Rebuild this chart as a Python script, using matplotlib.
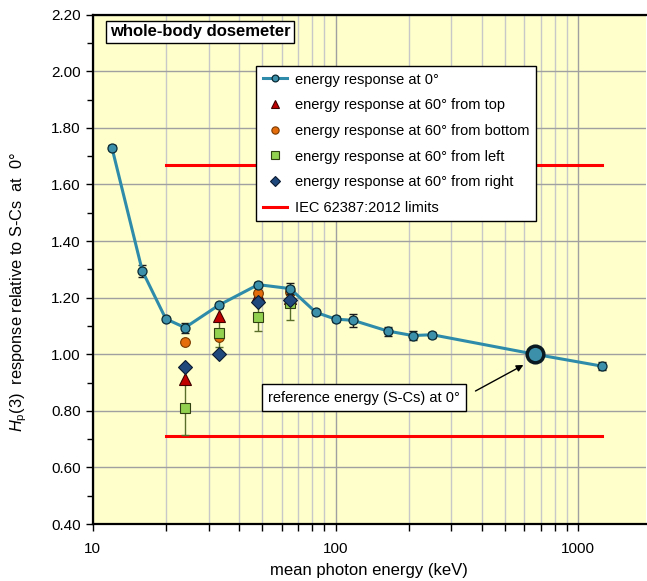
import numpy as np
import matplotlib
matplotlib.use("Agg")
import matplotlib.pyplot as plt
from matplotlib.ticker import FixedLocator, FormatStrFormatter, MultipleLocator, NullFormatter

plt.rcParams['font.family'] = ['Liberation Sans', 'DejaVu Sans']
plt.rcParams['mathtext.fontset'] = 'custom'
plt.rcParams['mathtext.rm'] = 'Liberation Sans'
plt.rcParams['mathtext.it'] = 'Liberation Sans:italic'

# energy response at 0 deg
energy_0 = [12, 16, 20, 24, 33, 48, 65, 83, 100, 118, 164, 208, 250, 662, 1250]
resp_0 = [1.73, 1.295, 1.125, 1.094, 1.173, 1.246, 1.232, 1.148, 1.124, 1.120, 1.082, 1.066, 1.069, 1.00, 0.958]
err_0 = [0.008, 0.022, 0.008, 0.018, 0.008, 0.01, 0.018, 0.01, 0.01, 0.022, 0.016, 0.016, 0.01, 0.0, 0.015]

# 60 deg responses
energy_60 = [24, 33, 48, 65]
resp_top = [0.912, 1.135, 1.21, 1.20]
resp_bottom = [1.043, 1.062, 1.216, 1.221]
resp_left = [0.809, 1.075, 1.133, 1.182]
err_left = [0.095, 0.05, 0.05, 0.06]
resp_right = [0.955, 1.001, 1.186, 1.19]

# IEC limits
limit_energy = [20, 1250]
limit_low = 0.71
limit_high = 1.67

ref_energy = 662
ref_resp = 1.00

fig = plt.figure(figsize=(6.47, 5.81), dpi=100)
ax = fig.add_axes([0.1433, 0.0981, 0.8552, 0.8766])
ax.set_facecolor('#FFFFCC')

ax.set_xscale('log')
ax.set_xlim(10, 1900)
ax.set_ylim(0.4, 2.2)

ax.xaxis.set_major_locator(FixedLocator([10, 100, 1000]))
ax.xaxis.set_minor_locator(FixedLocator([v * d for d in (10, 100, 1000) for v in range(2, 10)]))
ax.xaxis.set_minor_formatter(NullFormatter())
ax.set_xticklabels(['10', '100', '1000'])
ax.yaxis.set_major_locator(MultipleLocator(0.2))
ax.yaxis.set_minor_locator(MultipleLocator(0.1))
ax.yaxis.set_major_formatter(FormatStrFormatter('%.2f'))

ax.grid(True, which='major', color='#A0A0A0', linewidth=1.0)
ax.grid(True, which='minor', axis='x', color='#C8C8C8', linewidth=1.0)
ax.set_axisbelow(True)

ax.tick_params(axis='both', which='both', direction='out', colors='black', labelsize=11)
ax.tick_params(axis='both', which='major', length=5, width=1)
ax.tick_params(axis='both', which='minor', length=4, width=1)
ax.tick_params(axis='x', which='minor', length=5)
ax.tick_params(axis='x', which='major', pad=8)
for s in ('left', 'bottom', 'top'):
    ax.spines[s].set_linewidth(1.6)
ax.spines['right'].set_visible(False)

# IEC limits
ax.plot(limit_energy, [limit_high, limit_high], color='#FF0000', lw=2.2, zorder=2)
l_iec, = ax.plot(limit_energy, [limit_low, limit_low], color='#FF0000', lw=2.2, zorder=2,
                 label='IEC 62387:2012 limits')

# 60 deg series
ax.errorbar(energy_60, resp_left, yerr=err_left, fmt='none', ecolor='#5A6E2A', elinewidth=1,
            capsize=3, zorder=3)
h_top, = ax.plot(energy_60, resp_top, ls='none', marker='^', ms=8, mfc='#C00000', mec='#400000',
                 mew=0.8, zorder=4, label='energy response at 60° from top')
h_bot, = ax.plot(energy_60, resp_bottom, ls='none', marker='o', ms=7, mfc='#E46C0A', mec='#7A3A00',
                 mew=0.8, zorder=4, label='energy response at 60° from bottom')
h_left, = ax.plot(energy_60, resp_left, ls='none', marker='s', ms=7, mfc='#92D050', mec='#304010',
                  mew=0.8, zorder=5, label='energy response at 60° from left')
h_right, = ax.plot(energy_60, resp_right, ls='none', marker='D', ms=7, mfc='#1F497D', mec='#0A1A30',
                   mew=0.8, zorder=5, label='energy response at 60° from right')

# 0 deg series
ax.errorbar(energy_0, resp_0, yerr=err_0, fmt='none', ecolor='#1A1A1A', elinewidth=1, capsize=3,
            zorder=6)
h_0, = ax.plot(energy_0, resp_0, color='#2E8CAA', lw=2.2, marker='o', ms=6.5, mfc='#3C90AA',
               mec='#0A2A35', mew=0.9, zorder=7, label='energy response at 0°')
ax.plot([ref_energy], [ref_resp], ls='none', marker='o', ms=12, mfc='#3C90AA', mec='#0A1A20',
        mew=2.5, zorder=8)

leg = ax.legend(handles=[h_0, h_top, h_bot, h_left, h_right, l_iec],
                loc='upper left', bbox_to_anchor=(256 / 647, 1 - 66 / 581),
                bbox_transform=fig.transFigure, fontsize=10.5, frameon=True, fancybox=False,
                edgecolor='black', facecolor='white', framealpha=1, labelspacing=0.8,
                handlelength=1.7, borderpad=0.45, handletextpad=0.55, borderaxespad=0,
                markerscale=0.75)
leg.get_frame().set_linewidth(1.0)

ax.text(0.031, 0.981, 'whole-body dosemeter', transform=ax.transAxes, fontsize=12, fontweight='bold',
        ha='left', va='top',
        bbox=dict(boxstyle='square,pad=0.22', facecolor='white', edgecolor='black', linewidth=1.0))

ax.text(131, 0.847, 'reference energy (S-Cs) at 0°', fontsize=10.5, ha='center', va='center',
        bbox=dict(boxstyle='square,pad=0.42', facecolor='white', edgecolor='black', linewidth=1.0),
        zorder=9)
ax.annotate('', xy=(594, 0.962), xytext=(377, 0.870),
            arrowprops=dict(arrowstyle='-|>', color='black', lw=1.0, mutation_scale=10,
                            shrinkA=0, shrinkB=0),
            zorder=9)

ax.set_xlabel('mean photon energy (keV)', fontsize=12, labelpad=5)
ax.set_ylabel(r'$H_\mathrm{p}$(3)  response relative to S-Cs  at  0°', fontsize=11.8)
ax.yaxis.set_label_coords(-0.115, 0.455)

fig.savefig('out.png', dpi=100)
